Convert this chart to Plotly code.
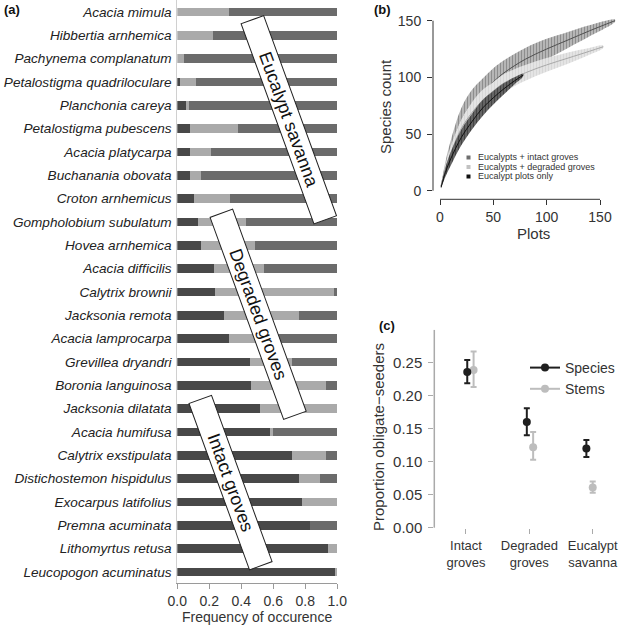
import plotly.graph_objects as go

W = H = 626
FONT = "Liberation Sans, Arial, sans-serif"
TXT = "#333333"

# ---------------- Panel (a) data ----------------
species = [
    "Acacia mimula", "Hibbertia arnhemica", "Pachynema complanatum",
    "Petalostigma quadriloculare", "Planchonia careya", "Petalostigma pubescens",
    "Acacia platycarpa", "Buchanania obovata", "Croton arnhemicus",
    "Gompholobium subulatum", "Hovea arnhemica", "Acacia difficilis",
    "Calytrix brownii", "Jacksonia remota", "Acacia lamprocarpa",
    "Grevillea dryandri", "Boronia languinosa", "Jacksonia dilatata",
    "Acacia humifusa", "Calytrix exstipulata", "Distichostemon hispidulus",
    "Exocarpus latifolius", "Premna acuminata", "Lithomyrtus retusa",
    "Leucopogon acuminatus",
]
freq_intact = [0.0, 0.0, 0.0, 0.017, 0.054, 0.08, 0.08, 0.08, 0.104, 0.13, 0.15, 0.23,
               0.236, 0.29, 0.32, 0.454, 0.46, 0.517, 0.58, 0.715, 0.76, 0.78, 0.83, 0.94, 0.985]
freq_degraded = [0.325, 0.22, 0.04, 0.10, 0.016, 0.30, 0.13, 0.07, 0.226, 0.30, 0.336, 0.31,
                 0.744, 0.47, 0.18, 0.26, 0.47, 0.483, 0.02, 0.215, 0.13, 0.22, 0.0, 0.06, 0.015]
freq_savanna = [0.675, 0.78, 0.96, 0.883, 0.93, 0.62, 0.79, 0.85, 0.67, 0.57, 0.514, 0.46,
                0.02, 0.24, 0.50, 0.286, 0.07, 0.0, 0.40, 0.07, 0.11, 0.0, 0.17, 0.0, 0.0]
freq_ticks = [0, 0.2, 0.4, 0.6, 0.8, 1.0]
habitat_labels = ["Eucalypt savanna", "Degraded groves", "Intact groves"]

# ---------------- Panel (b) data ----------------
plots_intact = [1, 5, 10, 20, 30, 40, 50, 60, 80, 100, 120, 140, 164]
count_intact = [4, 20, 36, 62, 77, 87, 96, 104, 116, 125, 133, 141, 150]
ci_intact = [1, 5, 8, 11, 12, 12, 12, 11, 10, 9, 7, 5, 1]

plots_degraded = [1, 5, 10, 20, 30, 40, 50, 60, 80, 100, 120, 140, 153]
count_degraded = [4, 19, 33, 55, 69, 80, 88, 95, 104, 111, 117, 123, 127]
ci_degraded = [1, 4, 6, 8, 9, 9, 8, 8, 7, 6, 5, 3, 1]

plots_euc = [1, 5, 10, 20, 30, 40, 50, 60, 70, 78]
count_euc = [3, 16, 28, 47, 61, 73, 82, 90, 97, 102]
ci_euc = [1, 4, 6, 7, 7, 7, 6, 5, 3, 1]

rare_names = ["Eucalypts + intact groves", "Eucalypts + degraded groves", "Eucalypt plots only"]
rare_ticks = [0, 50, 100, 150]

# ---------------- Panel (c) data ----------------
habitats = ["Intact<br>groves", "Degraded<br>groves", "Eucalypt<br>savanna"]
hab_pos = [1, 2, 3]
species_x = [1.02, 1.96, 2.90]
stems_x = [1.12, 2.06, 3.00]
species_prop = [0.236, 0.160, 0.120]
species_hi = [0.254, 0.181, 0.133]
species_lo = [0.219, 0.140, 0.107]
stems_prop = [0.239, 0.122, 0.061]
stems_hi = [0.267, 0.145, 0.070]
stems_lo = [0.213, 0.103, 0.053]
prop_ticks = [0.00, 0.05, 0.10, 0.15, 0.20, 0.25]


def px_x(p):
    return p / W


def px_y(p):
    return 1 - p / H


fig = go.Figure()

# ---- panel a bars ----
bar_cols = ["#484848", "#aaaaaa", "#6b6b6b"]
for vals, col, nm in zip([freq_intact, freq_degraded, freq_savanna], bar_cols,
                         ["Intact", "Degraded", "Savanna"]):
    fig.add_trace(go.Bar(x=vals, y=species, orientation="h", marker=dict(color=col, line=dict(width=0)),
                         width=0.36, name=nm, showlegend=False, xaxis="x", yaxis="y"))

# ---- panel b rarefaction ----
rare_sets = [
    (plots_intact, count_intact, ci_intact, "#5e5e5e", "#bdbdbd", "#505050"),
    (plots_degraded, count_degraded, ci_degraded, "#c8c8c8", "#e6e6e6", "#a8a8a8"),
    (plots_euc, count_euc, ci_euc, "#1e1e1e", "#6a6a6a", "#111111"),
]
for (xs, ys, ci, fg, bg, lc), nm in zip(rare_sets, rare_names):
    up = [y + c for y, c in zip(ys, ci)]
    lo = [y - c for y, c in zip(ys, ci)]
    fig.add_trace(go.Scatter(
        x=xs + xs[::-1], y=up + lo[::-1], mode="lines", line=dict(width=0, shape="spline"),
        fill="toself", fillcolor=bg,
        fillpattern=dict(shape="|", fgcolor=fg, bgcolor=bg, size=3, solidity=0.45),
        showlegend=False, xaxis="x2", yaxis="y2", hoverinfo="skip"))
    fig.add_trace(go.Scatter(x=xs, y=ys, mode="lines", line=dict(color=lc, width=1, shape="spline"),
                             showlegend=False, xaxis="x2", yaxis="y2", name=nm))

# ---- panel c points ----
sp_col = "#1f1f1f"
st_col = "#bdbdbd"
fig.add_trace(go.Scatter(
    x=stems_x, y=stems_prop, mode="markers", marker=dict(color=st_col, size=8),
    error_y=dict(type="data", symmetric=False,
                 array=[h - m for h, m in zip(stems_hi, stems_prop)],
                 arrayminus=[m - l for l, m in zip(stems_lo, stems_prop)],
                 color=st_col, thickness=2, width=3),
    showlegend=False, xaxis="x3", yaxis="y3", name="Stems"))
fig.add_trace(go.Scatter(
    x=species_x, y=species_prop, mode="markers", marker=dict(color=sp_col, size=8),
    error_y=dict(type="data", symmetric=False,
                 array=[h - m for h, m in zip(species_hi, species_prop)],
                 arrayminus=[m - l for l, m in zip(species_lo, species_prop)],
                 color=sp_col, thickness=2, width=3),
    showlegend=False, xaxis="x3", yaxis="y3", name="Species"))
# legend entries
fig.add_trace(go.Scatter(x=[None], y=[None], mode="lines+markers", name="Species",
                         line=dict(color=sp_col, width=2), marker=dict(color=sp_col, size=8),
                         xaxis="x3", yaxis="y3"))
fig.add_trace(go.Scatter(x=[None], y=[None], mode="lines+markers", name="Stems",
                         line=dict(color=st_col, width=2), marker=dict(color=st_col, size=8),
                         xaxis="x3", yaxis="y3"))

axfont = dict(family=FONT, size=14, color=TXT)

# panel a axes
a_left, a_right, a_bottom = 177.3, 337.3, 583
row_top, row_step = 12, 23.333
fig.update_layout(
    xaxis=dict(domain=[px_x(a_left), px_x(a_right)], range=[0, 1], tickvals=freq_ticks,
               ticktext=["%.1f" % t for t in freq_ticks], showline=True, linecolor="#9a9a9a",
               ticks="outside", ticklen=5, tickcolor="#9a9a9a", showgrid=False, zeroline=False,
               tickfont=axfont, anchor="y", fixedrange=True, automargin=False),
    yaxis=dict(domain=[px_y(a_bottom), 1.0],
               range=[(a_bottom - row_top) / row_step, (0 - row_top) / row_step],
               type="category", categoryorder="array", categoryarray=species,
               showline=True, linecolor="#d0d0d0", ticks="", showgrid=False, zeroline=False,
               tickfont=dict(family=FONT, size=13.6, color="#222222", style="italic"),
               ticklabelstandoff=2, anchor="x", automargin=False),
    barmode="stack",
)

# panel b axes
b_x0px, b_xscale = 440, 160 / 150
b_y0px, b_yscale = 190.7, 170 / 150
b_left, b_right, b_bot, b_top = 433, 625, 199.3, 10
fig.update_layout(
    xaxis2=dict(domain=[px_x(b_left), px_x(b_right)],
                range=[(b_left - b_x0px) / b_xscale, (b_right - b_x0px) / b_xscale],
                tickvals=rare_ticks, ticks="outside", ticklen=5, tickcolor="#333", showline=False,
                showgrid=False, zeroline=False, tickfont=dict(family=FONT, size=14, color=TXT),
                anchor="y2", automargin=False),
    yaxis2=dict(domain=[px_y(b_bot), px_y(b_top)],
                range=[(b_y0px - b_bot) / b_yscale, (b_y0px - b_top) / b_yscale],
                tickvals=rare_ticks, ticks="outside", ticklen=5, tickcolor="#333", showline=False,
                showgrid=False, zeroline=False, tickfont=dict(family=FONT, size=14, color=TXT),
                ticklabelstandoff=3, anchor="x2", automargin=False),
)

# panel c axes
c_left, c_right, c_bot = 434.3, 624.4, 528
c_y0px, c_yscale = 527.7, 660
fig.update_layout(
    xaxis3=dict(domain=[px_x(c_left), px_x(c_right)], range=[0.5, 3.5], tickvals=hab_pos,
                ticktext=habitats, ticks="outside", ticklen=5, tickcolor="#aaaaaa", showline=False,
                showgrid=False, zeroline=False, tickfont=dict(family=FONT, size=13, color=TXT),
                anchor="y3", automargin=False),
    yaxis3=dict(domain=[px_y(c_bot), px_y(c_y0px - 0.30 * c_yscale)],
                range=[(c_y0px - c_bot) / c_yscale, 0.30], tickvals=prop_ticks,
                ticktext=["%.2f" % t for t in prop_ticks], ticks="outside", ticklen=5,
                tickcolor="#aaaaaa", showline=False, showgrid=False, zeroline=False,
                tickfont=dict(family=FONT, size=15, color=TXT), ticklabelstandoff=3, anchor="x3",
                automargin=False),
)

shapes = [
    dict(type="line", xref="x2", yref="y2 domain", x0=0, x1=150, y0=0, y1=0,
         line=dict(color="#333", width=1)),
    dict(type="line", xref="x2 domain", yref="y2", x0=0, x1=0, y0=0, y1=150,
         line=dict(color="#333", width=1)),
    dict(type="line", xref="x3 domain", yref="y3", x0=0, x1=0, y0=0, y1=0.30,
         line=dict(color="#aaaaaa", width=1.5)),
]

# legend squares for panel b
leg_cols = ["#6e6e6e", "#c2c2c2", "#111111"]
leg_ys = [157.5, 167.0, 176.5]
for col, yy in zip(leg_cols, leg_ys):
    shapes.append(dict(type="rect", xref="paper", yref="paper", x0=px_x(466.5), x1=px_x(470.5),
                       y0=px_y(yy + 2), y1=px_y(yy - 2), fillcolor=col, line=dict(width=0)))

annotations = []
for nm, yy in zip(rare_names, leg_ys):
    annotations.append(dict(text=nm, xref="paper", yref="paper", x=px_x(475.5), y=px_y(yy),
                            xanchor="left", yanchor="middle", showarrow=False,
                            font=dict(family=FONT, size=9, color=TXT)))

# habitat boxes on panel a
box_specs = [  # (cx, cy, length)
    (288.7, 119.5, 212),
    (258.2, 314.5, 214),
    (230.7, 482.2, 176),
]
for lab, (cx, cy, ln) in zip(habitat_labels, box_specs):
    annotations.append(dict(text=lab, xref="paper", yref="paper", x=px_x(cx), y=px_y(cy),
                            xanchor="center", yanchor="middle", showarrow=False, textangle=70,
                            width=ln, height=23, bgcolor="white", bordercolor="#222",
                            borderwidth=1, borderpad=0,
                            font=dict(family=FONT, size=18, color="#111")))

# titles
annotations += [
    dict(text="Frequency of occurence", x=px_x(257), y=px_y(617), xref="paper", yref="paper",
         showarrow=False, font=dict(family=FONT, size=14, color=TXT), xanchor="center", yanchor="middle"),
    dict(text="Species count", x=px_x(385), y=px_y(107), xref="paper", yref="paper", textangle=-90,
         showarrow=False, font=dict(family=FONT, size=15, color=TXT), xanchor="center", yanchor="middle"),
    dict(text="Plots", x=px_x(533), y=px_y(233), xref="paper", yref="paper",
         showarrow=False, font=dict(family=FONT, size=15, color=TXT), xanchor="center", yanchor="middle"),
    dict(text="Proportion obligate\u2212seeders", x=px_x(378), y=px_y(437), xref="paper", yref="paper",
         textangle=-90, showarrow=False, font=dict(family=FONT, size=15, color=TXT),
         xanchor="center", yanchor="middle"),
    dict(text="<b>(a)</b>", x=px_x(2), y=px_y(10), xref="paper", yref="paper", showarrow=False,
         font=dict(family=FONT, size=13, color="#111"), xanchor="left", yanchor="middle"),
    dict(text="<b>(b)</b>", x=px_x(372), y=px_y(9), xref="paper", yref="paper", showarrow=False,
         font=dict(family=FONT, size=13, color="#111"), xanchor="left", yanchor="middle"),
    dict(text="<b>(c)</b>", x=px_x(377), y=px_y(325), xref="paper", yref="paper", showarrow=False,
         font=dict(family=FONT, size=13, color="#111"), xanchor="left", yanchor="middle"),
]

fig.update_layout(
    width=W, height=H, margin=dict(l=0, r=0, t=0, b=0, autoexpand=False),
    paper_bgcolor="white", plot_bgcolor="white",
    font=dict(family=FONT, color=TXT),
    shapes=shapes, annotations=annotations,
    showlegend=True,
    legend=dict(x=px_x(525), y=px_y(352), xanchor="left", yanchor="top", traceorder="normal",
                font=dict(family=FONT, size=14, color=TXT), bgcolor="rgba(0,0,0,0)",
                itemwidth=30, tracegroupgap=0),
)

fig.write_html(
    "out.html",
    config={"displayModeBar": False, "staticPlot": True},
    post_script="document.body.style.margin='0';document.body.style.padding='0';"
                "document.body.style.overflow='hidden';",
)
